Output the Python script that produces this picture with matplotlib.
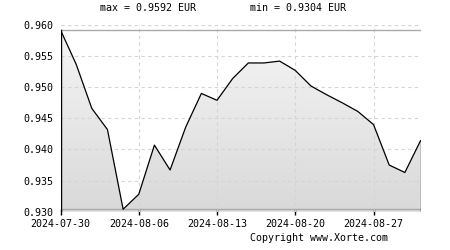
import numpy as np
import matplotlib
matplotlib.use("Agg")
import matplotlib.pyplot as plt
from matplotlib.patches import Polygon

# business days, 2024-07-30 .. 2024-08-30
dates = ["2024-07-30", "2024-07-31", "2024-08-01", "2024-08-02",
         "2024-08-05", "2024-08-06", "2024-08-07", "2024-08-08", "2024-08-09",
         "2024-08-12", "2024-08-13", "2024-08-14", "2024-08-15", "2024-08-16",
         "2024-08-19", "2024-08-20", "2024-08-21", "2024-08-22", "2024-08-23",
         "2024-08-26", "2024-08-27", "2024-08-28", "2024-08-29", "2024-08-30"]
rates = [0.9592, 0.9537, 0.9466, 0.9432,
         0.9304, 0.9328, 0.9407, 0.9367, 0.9436,
         0.9490, 0.9479, 0.9514, 0.9539, 0.9539,
         0.9542, 0.9527, 0.9502, 0.9488, 0.9475,
         0.9461, 0.9440, 0.9375, 0.9363, 0.9414]
yticks = [0.930, 0.935, 0.940, 0.945, 0.950, 0.955, 0.960]
label_dates = ["2024-07-30", "2024-08-06", "2024-08-13", "2024-08-20", "2024-08-27"]

plt.rcParams['font.family'] = ['DejaVu Sans Mono']
fs = 7.2

fig = plt.figure(figsize=(4.5, 2.5), dpi=100)
ax = fig.add_axes([60.5 / 450, 1 - 211.7 / 250, 360 / 450, 186.7 / 250])
x = np.arange(len(rates))
ymin, ymax = yticks[0], yticks[-1]
ax.set_xlim(0, len(rates) - 1)
ax.set_ylim(ymin, ymax)
for s in ax.spines.values():
    s.set_visible(False)

# gradient fill under the line: light at top, darker at bottom
grad = np.linspace(1, 0, 256).reshape(-1, 1)
cmap = matplotlib.colors.LinearSegmentedColormap.from_list("g", ["#f6f6f6", "#d9d9d9"])
im = ax.imshow(grad, cmap=cmap, aspect="auto", origin="lower",
               extent=[0, len(rates) - 1, ymin, ymax], zorder=1)
verts = [(0, ymin)] + list(zip(x, rates)) + [(x[-1], ymin)]
poly = Polygon(verts, closed=True, facecolor="none", edgecolor="none", transform=ax.transData)
ax.add_patch(poly)
im.set_clip_path(poly)

# grid
for t in yticks:
    ax.axhline(t, color="#d4d4d4", lw=0.8, ls=(0, (3, 3)), zorder=2)
ticks_idx = [dates.index(d) for d in label_dates]
for i in ticks_idx:
    ax.axvline(i, color="#d4d4d4", lw=0.8, ls=(0, (3, 3)), zorder=2)

# max / min lines
ax.axhline(max(rates), color="#aaaaaa", lw=1, zorder=3)
ax.axhline(min(rates), color="#aaaaaa", lw=1, zorder=3)

# line and side edges
ax.plot(x, rates, color="black", lw=0.9, zorder=4)
ax.plot([0, 0], [ymin, rates[0]], color="black", lw=1, zorder=4)
ax.plot([x[-1], x[-1]], [ymin, rates[-1]], color="black", lw=1, zorder=4)

ax.set_yticks(yticks)
ax.set_yticklabels(["%.3f" % t for t in yticks], fontsize=fs)
ax.tick_params(axis="y", length=0, pad=5.4)
ax.set_xticks(ticks_idx)
ax.set_xticklabels(label_dates, fontsize=fs)
ax.tick_params(axis="x", direction="inout", length=5, width=1, color="black", pad=3)

fig.text(100 / 450, 1 - 8 / 250, "max = %.4f EUR" % max(rates), fontsize=fs, va="center")
fig.text(250 / 450, 1 - 8 / 250, "min = %.4f EUR" % min(rates), fontsize=fs, va="center")
fig.text(250 / 450, 1 - 238 / 250, "Copyright www.Xorte.com", fontsize=fs, va="center")

fig.savefig("out.png", dpi=100, facecolor="white")
